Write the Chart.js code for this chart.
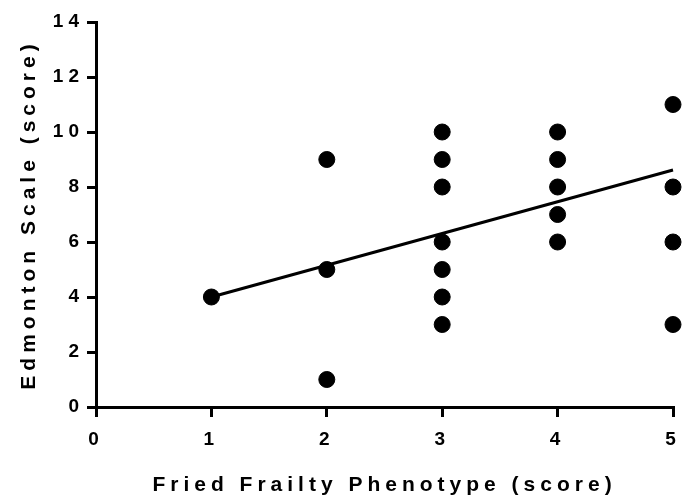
<!DOCTYPE html>
<html>
<head>
<meta charset="utf-8">
<script src="https://cdn.jsdelivr.net/npm/chart.js@4/dist/chart.umd.min.js"></script>
<style>
  html, body { margin: 0; padding: 0; background: #fff; }
  #wrap { width: 682px; height: 500px; }
</style>
</head>
<body>
<div id="wrap"><canvas id="frailty"></canvas></div>
<script>
// frailty score vs edmonton score, one entry per dot
var friedScore = [1, 2, 2, 2, 3, 3, 3, 3, 3, 3, 3, 4, 4, 4, 4, 4, 5, 5, 5, 5];
var edmontonScore = [4, 9, 5, 1, 10, 9, 8, 6, 5, 4, 3, 10, 9, 8, 7, 6, 11, 8, 6, 3];
// fitted line at its two ends
var fitX = [1, 5];
var fitY = [4.0, 8.62];

var xTicks = [0, 1, 2, 3, 4, 5];
var yTicks = [0, 2, 4, 6, 8, 10, 12, 14];

var dots = friedScore.map(function (x, i) { return { x: x, y: edmontonScore[i] }; });
var fit = fitX.map(function (x, i) { return { x: x, y: fitY[i] }; });

// canvas letter spacing, the original has spaced out bold text
var spacing = {
  id: 'spacing',
  beforeLayout: function (chart) { chart.ctx.letterSpacing = '5px'; },
  beforeDraw: function (chart) { chart.ctx.letterSpacing = '5px'; }
};

var fontFamily = '"Liberation Sans", Arial, sans-serif';

new Chart(document.getElementById('frailty'), {
  type: 'scatter',
  data: {
    datasets: [
      {
        data: dots,
        backgroundColor: '#000',
        borderColor: '#000',
        pointRadius: 8,
        pointHoverRadius: 8,
        clip: false
      },
      {
        type: 'line',
        data: fit,
        borderColor: '#000',
        borderWidth: 3,
        pointRadius: 0,
        fill: false,
        clip: false
      }
    ]
  },
  options: {
    responsive: true,
    maintainAspectRatio: false,
    animation: false,
    layout: { padding: { top: 22, right: 8, left: 0, bottom: 0 } },
    plugins: {
      legend: { display: false },
      tooltip: { enabled: false }
    },
    scales: {
      x: {
        type: 'linear',
        min: 0,
        max: 5,
        afterBuildTicks: function (axis) { axis.ticks = xTicks.map(function (v) { return { value: v }; }); },
        afterFit: function (axis) { axis.height = 93; axis.paddingLeft = 0; axis.paddingRight = 0; },
        border: { display: true, color: '#000', width: 3 },
        grid: { display: true, drawOnChartArea: false, drawTicks: true, tickLength: 10, color: '#000', lineWidth: 3 },
        ticks: { color: '#000', padding: 11, font: { family: fontFamily, size: 19, weight: 'bold' } },
        title: {
          display: true,
          text: 'Fried Frailty Phenotype (score)',
          color: '#000',
          padding: { top: 0, bottom: 2 },
          font: { family: fontFamily, size: 21, weight: 'bold' }
        }
      },
      y: {
        type: 'linear',
        min: 0,
        max: 14,
        afterBuildTicks: function (axis) { axis.ticks = yTicks.map(function (v) { return { value: v }; }); },
        afterFit: function (axis) { axis.width = 96; axis.paddingTop = 0; axis.paddingBottom = 0; },
        border: { display: true, color: '#000', width: 3 },
        grid: { display: true, drawOnChartArea: false, drawTicks: true, tickLength: 9, color: '#000', lineWidth: 3 },
        ticks: { color: '#000', padding: 3, font: { family: fontFamily, size: 19, weight: 'bold' } },
        title: {
          display: true,
          text: 'Edmonton Scale (score)',
          color: '#000',
          padding: { top: 17, bottom: 0 },
          font: { family: fontFamily, size: 21, weight: 'bold' }
        }
      }
    }
  },
  plugins: [spacing]
});
</script>
</body>
</html>
